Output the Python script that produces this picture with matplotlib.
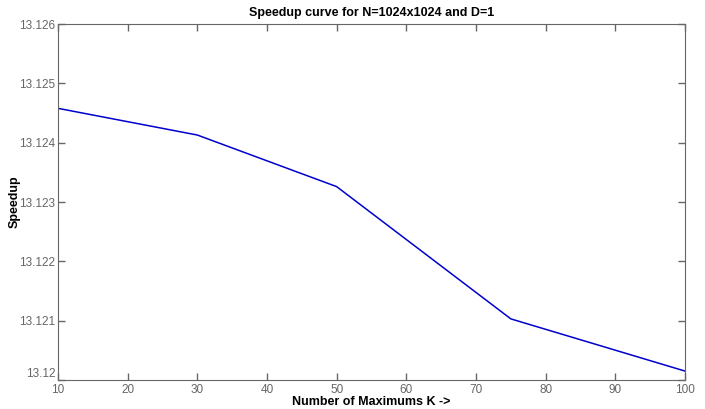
import matplotlib
matplotlib.use('Agg')
import matplotlib.pyplot as plt

# data
k_values = [10, 30, 50, 75, 100]
speedup = [13.12458, 13.12413, 13.12326, 13.12103, 13.12015]

x_ticks = [10, 20, 30, 40, 50, 60, 70, 80, 90, 100]
y_ticks = [13.12, 13.121, 13.122, 13.123, 13.124, 13.125, 13.126]
y_labels = ['13.12', '13.121', '13.122', '13.123', '13.124', '13.125', '13.126']

plt.rcParams['font.family'] = ['Liberation Sans', 'DejaVu Sans']

fig = plt.figure(figsize=(7.05, 4.09), dpi=100)
ax = fig.add_axes([0.0823, 0.071, 0.8893, 0.870])

ax.plot(k_values, speedup, color='#0000cc', linewidth=1.1)

ax.set_xlim(10, 100)
ax.set_ylim(13.12, 13.126)
ax.set_xticks(x_ticks)
ax.set_yticks(y_ticks)
ax.set_yticklabels(y_labels)

ax.tick_params(direction='in', top=True, right=True, length=5,
               colors='#666666', labelcolor='#666666', labelsize=8.5, width=1)
ax.tick_params(axis='x', pad=3)
ax.tick_params(axis='y', pad=2)
# in the original, the lowest y label sits a bit above the corner
ax.get_yticklabels()[0].set_va('bottom')
for s in ax.spines.values():
    s.set_color('#666666')

ax.set_title('Speedup curve for N=1024x1024 and D=1', fontsize=9, fontweight='bold', pad=6)
ax.set_xlabel('Number of Maximums K ->', fontsize=9, fontweight='bold', labelpad=0)
ax.set_ylabel('Speedup', fontsize=9, fontweight='bold')
ax.yaxis.set_label_coords(-0.06, 0.5)

plt.savefig('out.png', dpi=100)
